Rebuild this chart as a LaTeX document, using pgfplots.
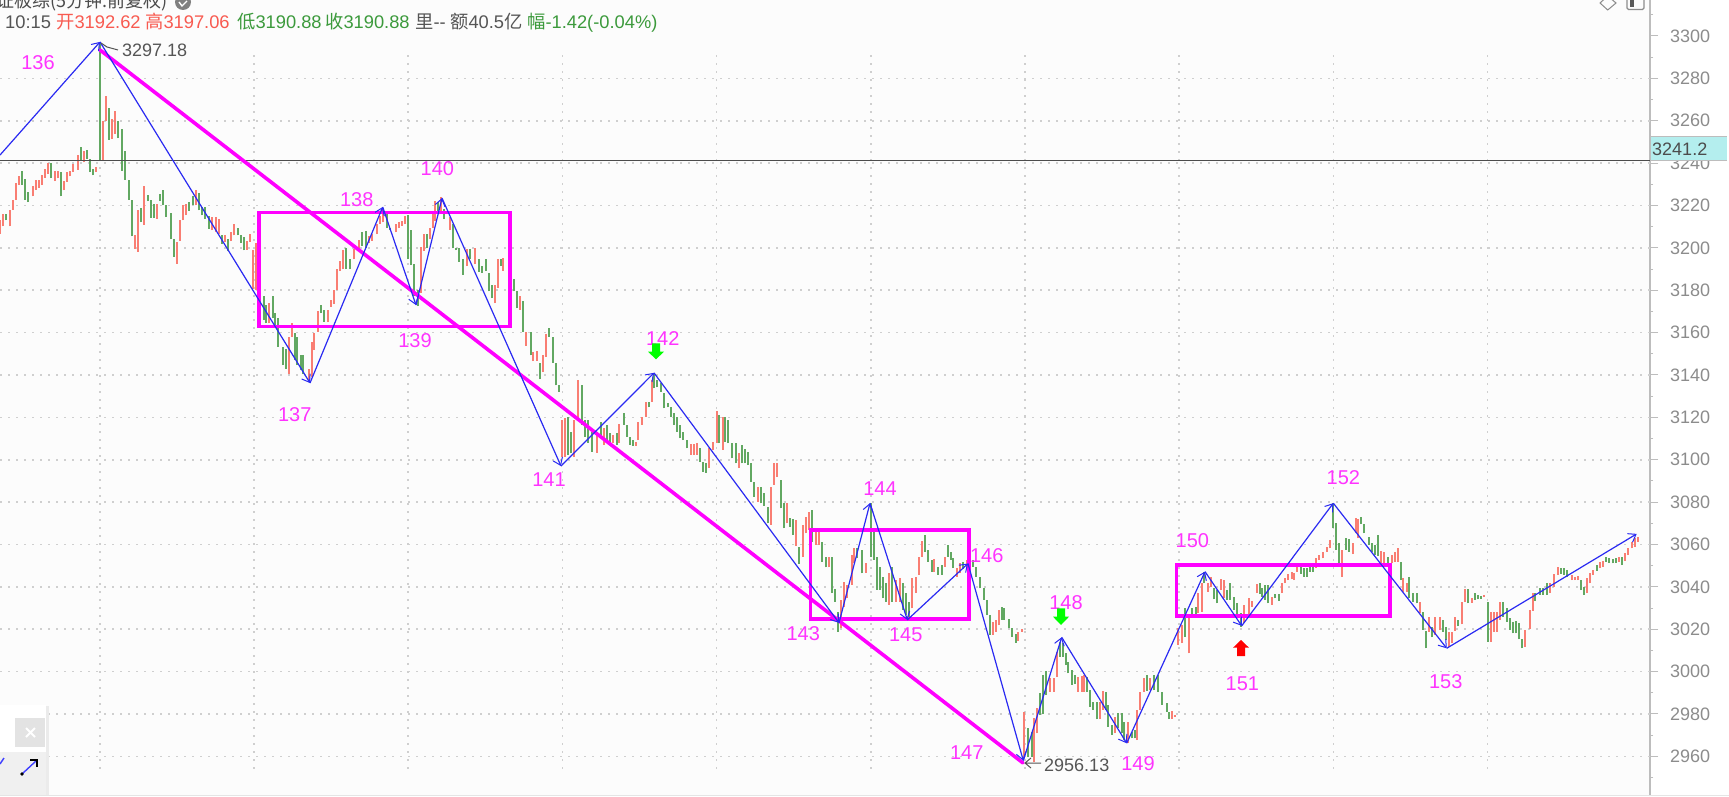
\documentclass[border=0pt]{standalone}
\usepackage{fontspec}
\usepackage{pgfplots}
\usepackage{pgfplotstable}
\pgfplotsset{compat=1.18}
\usetikzlibrary{arrows.meta}
\setmainfont{Liberation Sans}
\newfontfamily\cjk{Noto Sans CJK SC}
\definecolor{barred}{HTML}{F97E73}
\definecolor{bargreen}{HTML}{62A862}
\definecolor{hdrred}{HTML}{F85A50}
\definecolor{hdrgreen}{HTML}{3C9A3C}
\definecolor{mag}{HTML}{FF00FF}
\definecolor{lab}{HTML}{FF33FF}
\definecolor{zig}{HTML}{2A2AF2}
\definecolor{gridc}{HTML}{CFCFCF}
\definecolor{axc}{HTML}{BDBDBD}
\definecolor{tickc}{HTML}{8C8C8C}
\definecolor{txt}{HTML}{555555}
\definecolor{cy}{HTML}{B4EEEE}
\pgfplotstableread{
x hi lo
0.0 3213.0 3206.7
2.7 3215.8 3210.1
10.3 3218.0 3210.1
13.3 3222.7 3218.0
16.0 3230.6 3222.7
19.0 3233.7 3229.9
32.7 3229.1 3224.3
35.7 3231.8 3227.4
38.7 3232.1 3228.4
41.7 3234.2 3229.6
44.7 3237.0 3233.1
47.7 3240.0 3235.0
55.0 3236.5 3231.5
58.3 3236.2 3232.8
64.0 3231.5 3227.1
67.0 3235.7 3231.2
70.0 3236.5 3233.7
73.3 3239.7 3235.7
77.7 3243.6 3236.8
83.7 3245.6 3240.4
95.7 3238.4 3235.7
103.0 3259.8 3241.2
106.0 3271.8 3259.8
112.0 3260.9 3251.4
115.0 3264.5 3253.8
134.7 3205.9 3199.6
137.7 3218.0 3198.1
143.7 3229.1 3210.9
157.0 3220.8 3213.8
176.7 3202.8 3192.6
179.7 3213.0 3203.2
182.7 3220.0 3213.0
185.7 3220.8 3215.3
196.0 3227.1 3220.0
212.3 3214.5 3208.3
216.0 3214.5 3207.5
219.3 3213.8 3206.7
225.0 3205.9 3202.8
230.7 3207.5 3203.2
233.7 3211.4 3205.9
247.3 3203.2 3199.2
250.3 3206.7 3202.8
253.3 3198.8 3180.8
256.3 3202.3 3180.0
269.3 3173.9 3164.4
289.0 3158.1 3140.6
292.0 3164.4 3158.1
308.7 3143.0 3136.6
311.7 3155.7 3139.0
314.3 3159.7 3151.7
318.0 3170.0 3160.4
328.0 3170.8 3164.9
331.0 3175.5 3172.3
334.0 3180.3 3173.6
337.3 3189.8 3180.3
340.0 3193.8 3189.0
343.3 3198.9 3189.8
353.7 3199.3 3194.6
358.7 3203.6 3198.9
369.3 3205.7 3202.5
372.3 3206.5 3203.3
376.7 3211.2 3206.5
380.0 3215.2 3211.2
383.3 3218.4 3212.0
396.0 3211.2 3207.3
399.3 3212.0 3209.3
402.0 3212.8 3210.4
404.7 3215.2 3211.2
421.0 3200.4 3178.7
424.0 3206.5 3198.5
430.0 3209.6 3204.1
433.0 3217.6 3209.6
435.3 3222.3 3212.8
441.0 3224.2 3217.6
450.0 3214.4 3208.4
466.7 3199.3 3191.4
475.3 3200.1 3192.2
495.0 3182.7 3173.9
498.0 3194.6 3181.1
503.3 3195.0 3189.3
520.0 3177.1 3170.8
526.0 3160.4 3153.8
533.3 3150.9 3146.5
536.7 3151.2 3146.5
542.7 3149.3 3141.4
545.7 3159.2 3148.5
562.0 3118.8 3101.5
565.0 3119.6 3101.5
574.0 3118.8 3101.5
578.3 3137.6 3118.8
596.7 3113.3 3103.4
604.0 3114.8 3107.0
613.3 3111.7 3107.8
619.3 3116.7 3107.8
635.7 3108.5 3106.5
638.3 3118.0 3109.3
641.7 3120.3 3116.4
645.7 3127.4 3120.3
652.0 3137.6 3127.4
690.7 3107.4 3102.3
694.0 3107.4 3102.3
697.3 3107.8 3102.3
709.0 3105.4 3096.0
713.3 3108.5 3104.6
716.7 3123.2 3107.8
722.7 3120.0 3104.6
739.0 3103.0 3096.0
758.3 3087.0 3080.2
770.7 3087.3 3069.2
773.7 3098.3 3088.1
776.7 3098.3 3092.0
787.0 3079.4 3070.0
796.0 3071.6 3059.3
803.3 3069.2 3054.3
806.3 3073.2 3065.3
809.3 3075.5 3066.9
815.7 3066.1 3059.8
818.7 3066.1 3059.8
829.0 3054.0 3049.2
840.7 3033.8 3020.4
844.3 3042.5 3030.4
847.3 3040.9 3034.6
851.7 3055.1 3040.9
854.3 3058.2 3051.1
866.0 3051.1 3046.7
889.0 3046.4 3031.5
896.0 3043.3 3033.0
900.0 3044.0 3033.0
912.3 3044.0 3029.9
916.0 3044.8 3037.0
919.3 3054.3 3045.6
922.3 3061.8 3054.3
934.0 3053.0 3047.2
944.7 3054.3 3049.5
956.7 3048.8 3044.8
960.0 3051.1 3046.4
967.3 3052.7 3048.7
992.7 3023.6 3017.3
995.7 3024.4 3018.9
999.0 3029.1 3022.0
1018.3 3018.9 3014.6
1021.7 3020.0 3018.9
1024.3 2981.1 2959.1
1034.3 2978.0 2957.5
1037.3 2982.7 2970.9
1050.0 2996.8 2990.6
1054.0 2996.8 2990.6
1056.7 3009.4 2997.6
1078.3 2997.3 2990.6
1081.7 2998.0 2990.6
1084.0 2998.4 2990.6
1100.0 2985.8 2977.5
1102.7 2991.0 2981.9
1115.0 2978.8 2970.9
1128.3 2976.4 2966.2
1137.3 2981.9 2967.7
1140.0 2990.6 2981.9
1144.0 2996.8 2990.6
1150.3 2996.8 2991.3
1172.3 2981.6 2977.6
1175.3 2979.5 2978.8
1178.3 3020.4 3012.6
1181.7 3022.0 3013.4
1189.3 3025.9 3008.6
1198.3 3037.0 3027.5
1201.7 3041.7 3028.3
1208.0 3041.7 3037.7
1211.0 3044.5 3039.8
1220.7 3043.7 3038.5
1223.7 3043.2 3034.6
1243.7 3031.5 3023.1
1249.0 3034.6 3026.7
1252.3 3033.5 3030.7
1256.7 3041.4 3037.0
1271.7 3035.4 3031.5
1282.0 3042.0 3037.0
1285.3 3044.0 3041.7
1288.3 3046.1 3043.2
1291.7 3047.2 3043.6
1294.3 3046.7 3043.2
1297.3 3049.9 3047.2
1316.0 3053.5 3048.8
1319.3 3055.0 3052.7
1323.3 3056.6 3053.5
1327.0 3059.0 3056.6
1330.0 3062.1 3058.2
1342.3 3057.4 3044.8
1352.7 3060.6 3055.5
1355.7 3072.3 3065.3
1358.3 3071.9 3062.9
1381.3 3057.1 3050.3
1384.3 3056.6 3050.3
1392.3 3055.0 3051.1
1395.0 3056.6 3051.9
1397.7 3058.2 3051.9
1403.3 3044.0 3037.7
1406.7 3041.7 3037.7
1420.0 3033.0 3027.5
1429.0 3026.0 3018.9
1435.0 3026.0 3017.3
1440.0 3026.0 3019.7
1449.0 3018.9 3011.8
1451.7 3018.9 3013.4
1454.7 3026.0 3019.3
1461.7 3033.0 3022.3
1465.0 3038.8 3033.0
1471.7 3034.6 3032.6
1484.3 3036.2 3035.4
1491.0 3028.3 3014.1
1494.0 3028.3 3018.9
1496.7 3028.3 3018.9
1499.7 3033.0 3024.4
1525.0 3019.7 3011.8
1529.7 3029.1 3020.0
1532.7 3037.3 3028.8
1550.0 3041.7 3037.0
1554.3 3046.1 3040.1
1557.7 3049.5 3045.6
1571.7 3045.6 3043.2
1574.7 3044.5 3043.2
1578.0 3045.1 3043.2
1586.7 3044.0 3037.0
1590.0 3046.7 3041.7
1592.7 3048.0 3045.6
1600.0 3051.9 3048.8
1603.0 3052.4 3049.5
1618.7 3053.9 3051.9
1625.3 3055.8 3052.4
1628.3 3058.2 3055.0
1631.7 3061.3 3058.2
1635.0 3062.9 3059.0
1637.7 3063.7 3061.3
}\redbars
\pgfplotstableread{
x hi lo
5.7 3215.8 3213.0
22.0 3236.2 3229.9
25.0 3232.6 3222.7
28.3 3226.3 3221.6
50.7 3240.0 3232.9
61.3 3235.7 3224.3
80.7 3247.5 3241.2
86.7 3246.3 3242.0
89.7 3242.0 3235.7
92.7 3237.3 3234.2
100.0 3297.2 3241.2
109.0 3266.0 3251.0
118.0 3259.8 3251.8
122.3 3256.1 3236.5
125.3 3245.5 3232.1
128.7 3232.1 3222.7
131.7 3222.7 3205.4
140.7 3218.9 3212.2
148.0 3225.1 3222.1
151.0 3222.4 3214.2
154.0 3220.8 3214.1
160.0 3225.5 3222.1
163.0 3227.1 3220.0
166.0 3220.0 3214.5
170.7 3216.6 3204.0
173.7 3204.3 3195.7
188.7 3221.6 3217.4
193.0 3224.7 3220.0
199.0 3225.8 3217.7
202.0 3219.2 3215.3
205.0 3219.2 3213.8
209.3 3214.9 3209.0
222.0 3205.9 3202.0
228.0 3204.3 3198.4
238.3 3209.4 3205.9
241.3 3205.9 3202.3
244.3 3205.1 3198.8
260.0 3203.5 3176.1
263.7 3177.1 3166.0
266.0 3173.1 3164.4
272.7 3177.1 3166.8
275.3 3169.2 3162.8
278.3 3166.8 3153.3
282.7 3153.3 3144.6
285.7 3152.5 3143.0
294.7 3159.7 3147.0
297.3 3158.1 3144.6
300.7 3149.3 3142.2
303.3 3149.3 3140.6
320.7 3172.8 3169.2
323.7 3170.8 3165.2
346.0 3199.8 3189.8
350.0 3194.6 3189.8
362.0 3207.3 3200.9
365.7 3208.1 3200.1
387.3 3216.8 3209.3
390.0 3209.6 3208.4
407.7 3215.7 3194.6
410.7 3208.4 3191.9
413.7 3192.2 3177.1
418.0 3180.3 3172.4
427.0 3206.5 3200.1
438.3 3221.5 3217.6
444.3 3218.4 3213.6
453.0 3211.2 3199.8
456.0 3200.1 3198.9
459.0 3200.1 3193.5
463.3 3194.6 3187.4
470.0 3199.3 3194.6
479.0 3194.6 3188.7
482.0 3191.4 3188.2
485.7 3194.6 3189.0
488.7 3188.2 3179.5
491.7 3182.7 3176.3
500.7 3194.6 3191.4
510.7 3191.9 3184.3
514.0 3185.5 3179.5
517.0 3179.5 3171.6
523.3 3174.7 3160.4
530.7 3160.1 3149.3
540.0 3145.8 3137.9
548.7 3162.3 3158.1
553.3 3158.1 3145.8
556.0 3145.8 3135.1
559.3 3135.1 3132.2
568.0 3120.3 3102.3
571.0 3113.3 3103.0
581.7 3135.3 3116.4
585.0 3118.8 3110.9
587.7 3118.8 3108.0
592.3 3113.3 3103.8
601.0 3118.0 3110.1
606.7 3116.4 3109.3
610.0 3112.5 3107.8
616.7 3112.5 3107.0
624.0 3121.9 3116.4
626.7 3116.4 3110.9
630.0 3110.9 3107.0
633.3 3109.3 3106.5
648.7 3127.4 3124.7
654.0 3140.8 3133.7
656.7 3137.6 3134.2
660.7 3136.1 3132.1
664.0 3131.7 3124.3
668.3 3126.6 3124.7
671.3 3124.7 3120.3
674.3 3121.9 3116.4
677.3 3120.3 3113.3
680.3 3116.4 3110.1
683.3 3113.3 3109.3
686.7 3109.3 3105.4
700.3 3105.4 3099.1
703.3 3099.1 3094.4
706.3 3098.3 3093.9
719.3 3121.1 3107.8
725.3 3120.0 3108.5
728.3 3118.8 3107.8
731.7 3108.1 3100.7
736.0 3107.8 3098.3
742.0 3107.0 3098.3
745.0 3104.9 3098.3
748.0 3103.8 3097.5
751.0 3098.3 3089.7
754.0 3089.7 3082.6
761.3 3087.0 3079.4
764.3 3084.2 3078.2
767.7 3077.9 3070.0
781.0 3090.5 3077.1
783.7 3079.8 3067.6
790.0 3072.4 3068.4
793.3 3071.9 3064.5
799.0 3059.0 3050.8
812.3 3076.3 3061.4
821.7 3061.4 3051.9
826.0 3054.3 3049.2
832.0 3054.3 3037.0
835.0 3038.9 3033.0
838.0 3028.3 3018.9
856.7 3058.2 3053.5
861.7 3057.4 3046.4
870.7 3079.4 3054.3
874.0 3066.9 3052.7
877.0 3054.3 3038.6
880.0 3049.6 3038.6
883.0 3044.8 3034.6
886.0 3041.7 3033.0
892.0 3049.6 3033.0
903.0 3041.7 3029.1
906.0 3037.0 3026.7
909.0 3033.0 3024.4
925.0 3064.5 3056.6
928.3 3057.4 3051.9
931.7 3052.7 3047.2
938.3 3049.5 3045.6
941.7 3050.3 3045.6
947.7 3059.8 3054.3
950.7 3056.3 3052.7
953.3 3053.5 3048.8
963.3 3051.9 3048.3
972.7 3052.7 3049.5
976.0 3049.5 3044.8
980.0 3044.8 3039.3
983.7 3039.3 3033.8
986.7 3033.8 3026.7
990.0 3026.7 3017.3
1001.7 3030.3 3024.4
1004.3 3029.9 3024.4
1009.0 3024.7 3020.4
1012.3 3020.4 3016.5
1015.7 3017.8 3013.7
1027.7 2973.2 2959.9
1031.7 2971.7 2959.9
1040.0 2989.8 2979.5
1043.3 2998.4 2979.9
1046.0 3000.3 2989.0
1060.0 3014.2 3007.1
1063.3 3013.4 3007.1
1065.7 3008.6 3003.1
1068.3 3004.7 2999.2
1071.7 3000.8 2993.7
1075.0 2998.4 2994.2
1087.3 2997.6 2990.6
1090.0 2991.3 2983.5
1093.3 2985.8 2981.9
1096.7 2985.8 2977.5
1106.0 2990.6 2981.9
1108.3 2984.3 2974.0
1111.7 2974.8 2970.1
1118.3 2980.3 2973.2
1121.7 2980.3 2970.9
1124.3 2976.4 2967.7
1131.7 2971.7 2968.5
1135.0 2972.5 2968.5
1147.3 2998.4 2991.0
1154.0 2998.4 2991.3
1158.3 2998.4 2990.6
1162.3 2990.6 2984.3
1166.7 2985.1 2981.1
1169.3 2981.1 2977.6
1185.0 3029.9 3016.5
1192.3 3029.9 3026.7
1195.7 3030.7 3026.7
1204.3 3047.2 3041.7
1214.0 3039.3 3034.1
1217.0 3038.5 3032.2
1226.7 3038.5 3033.8
1230.0 3041.7 3033.8
1234.3 3035.4 3029.1
1237.3 3032.6 3025.2
1240.7 3027.5 3021.2
1259.7 3041.7 3036.6
1262.3 3039.3 3035.4
1265.0 3040.9 3033.8
1268.3 3040.9 3032.2
1275.0 3036.6 3034.6
1279.0 3036.6 3033.5
1301.0 3049.5 3046.1
1304.0 3048.8 3044.8
1307.0 3048.8 3044.8
1310.0 3051.4 3047.2
1313.0 3050.3 3047.2
1333.3 3079.4 3067.6
1336.0 3070.0 3057.4
1339.0 3060.6 3051.1
1346.0 3062.9 3057.4
1349.0 3062.4 3056.6
1361.3 3072.8 3069.7
1364.3 3069.7 3065.3
1368.7 3063.7 3059.8
1371.7 3060.6 3056.6
1375.0 3059.8 3055.0
1378.0 3064.5 3054.6
1388.3 3053.9 3050.8
1401.0 3051.9 3043.2
1409.3 3044.5 3034.6
1413.3 3037.0 3033.0
1416.7 3037.0 3032.2
1423.0 3028.3 3019.7
1426.0 3019.3 3011.0
1431.7 3021.2 3016.2
1443.3 3024.4 3018.9
1446.3 3021.2 3014.9
1457.7 3024.4 3021.5
1467.7 3038.8 3032.2
1474.7 3037.0 3033.8
1477.7 3036.2 3034.1
1480.7 3035.7 3034.4
1487.7 3033.0 3014.1
1502.7 3032.7 3025.9
1506.7 3029.9 3023.6
1509.7 3025.2 3019.7
1512.7 3023.6 3018.1
1516.0 3024.1 3018.1
1519.3 3023.1 3015.2
1522.0 3015.2 3011.0
1535.3 3037.0 3033.5
1540.0 3039.3 3036.2
1543.3 3039.3 3036.2
1546.7 3041.7 3036.2
1560.7 3048.8 3046.1
1564.0 3048.8 3045.6
1567.3 3048.0 3044.5
1581.0 3043.2 3038.5
1584.0 3039.8 3036.2
1596.7 3050.3 3047.7
1606.0 3054.3 3051.9
1609.3 3053.5 3051.4
1612.7 3053.0 3051.1
1615.7 3053.5 3051.4
1622.3 3054.3 3050.3
}\greenbars
\newcommand{\lbl}[3]{\node[text=lab,font=\fontsize{20}{20}\selectfont,inner sep=0pt] at (#1,796-#2) {#3};}
\newcommand{\hd}[3]{\node[text=#2,font=\fontsize{18.3}{18.3}\selectfont,inner sep=0pt,anchor=base west] at (#1,796-28.5) {#3};}
\begin{document}
\begin{tikzpicture}[x=1pt,y=1pt]
\useasboundingbox (0,0) rectangle (1729,796);
\fill[fill=white] (0,0) rectangle (1729,796);
\fill[fill=black!1] (0,0) rectangle (1650,796);
\begin{axis}[
  at={(0,0)}, anchor=south west,
  scale only axis, width=1650pt, height=796pt,
  xmin=0, xmax=1650, ymin=2941.29, ymax=3316.99,
  axis x line=none,
  axis y line=right,
  axis line style={draw=axc,line width=1.2pt,-},
  ytick={2960,2980,...,3300},
  minor ytick={2950,2970,...,3310},
  major tick length=8pt, minor tick length=3pt,
  tick align=outside,
  tick style={draw=axc,line width=1pt},
  every tick/.style={draw=axc,line width=1pt},
  /pgf/number format/assume math mode=true,
  /pgf/number format/1000 sep={},
  yticklabel style={font=\fontsize{18}{18}\selectfont,text=tickc,anchor=west,xshift=12pt,inner sep=0pt},
]
\pgfplotsinvokeforeach{2960,2980,3000,3020,3040,3060,3080,3100,3120,3140,3160,3180,3200,3220,3240,3260,3280}{
  \addplot[forget plot,draw=gridc,line width=1.6pt,dash pattern=on 1.6pt off 6.4pt] coordinates {(0,#1) (1650,#1)};
}
\pgfplotsinvokeforeach{99.8,254,408.2,562.4,716.6,870.8,1025,1179.2,1333.4,1487.6}{
  \addplot[forget plot,draw=gridc,line width=1.6pt,dash pattern=on 1.6pt off 6.4pt] coordinates {(#1,3291) (#1,2951.3)};
}
\addplot[forget plot,draw=none,mark=none,error bars/.cd,y dir=plus,y explicit,error mark=none,error bar style={draw=barred,line width=2pt}]
  table[x=x,y=lo,y error expr=\thisrow{hi}-\thisrow{lo}] {\redbars};
\addplot[forget plot,draw=none,mark=none,error bars/.cd,y dir=plus,y explicit,error mark=none,error bar style={draw=bargreen,line width=2pt}]
  table[x=x,y=lo,y error expr=\thisrow{hi}-\thisrow{lo}] {\greenbars};
\addplot[forget plot,draw=black!70,line width=1.8pt] coordinates {(0,3241.2) (1650,3241.2)};
\addplot[forget plot,draw=mag,line width=3.6pt,line cap=round] coordinates {(100,3293.4) (1023,2956.9)};
\addplot[forget plot,draw=mag,line width=3.4pt,line cap=rect] coordinates {(259,3216.8) (510,3216.8) (510,3162.8) (259,3162.8) (259,3216.8)};
\addplot[forget plot,draw=mag,line width=3.4pt,line cap=rect] coordinates {(810.7,3066.9) (969,3066.9) (969,3024.9) (810.7,3024.9) (810.7,3066.9)};
\addplot[forget plot,draw=mag,line width=3.4pt,line cap=rect] coordinates {(1176.7,3050.4) (1390,3050.4) (1390,3026.3) (1176.7,3026.3) (1176.7,3050.4)};
\pgfplotsset{zigz/.style={forget plot,draw=zig,line width=1.2pt,-{Straight Barb[length=7pt,width=10pt,line width=1pt]}}}
\addplot[zigz] coordinates {(0,3243.8) (100,3297.2)};
\addplot[zigz] coordinates {(100,3297.2) (310,3136.2)};
\addplot[zigz] coordinates {(310,3136.2) (382.7,3219.3)};
\addplot[zigz] coordinates {(382.7,3219.3) (416,3173)};
\addplot[zigz] coordinates {(416,3173) (442,3223.5)};
\addplot[zigz] coordinates {(442,3223.5) (561,3097)};
\addplot[zigz] coordinates {(561,3097) (654,3141)};
\addplot[zigz] coordinates {(654,3141) (839,3023)};
\addplot[zigz] coordinates {(839,3023) (870,3079.5)};
\addplot[zigz] coordinates {(870,3079.5) (907.3,3024.4)};
\addplot[zigz] coordinates {(907.3,3024.4) (968,3051)};
\addplot[zigz] coordinates {(968,3051) (1023.3,2958)};
\addplot[zigz] coordinates {(1023.3,2958) (1061.7,3016.2)};
\addplot[zigz] coordinates {(1061.7,3016.2) (1126.7,2966.2)};
\addplot[zigz] coordinates {(1126.7,2966.2) (1205,3047.2)};
\addplot[zigz] coordinates {(1205,3047.2) (1241.7,3021.6)};
\addplot[zigz] coordinates {(1241.7,3021.6) (1333.3,3079.5)};
\addplot[zigz] coordinates {(1333.3,3079.5) (1446.7,3011)};
\addplot[zigz] coordinates {(1446.7,3011) (1636.7,3065)};
\end{axis}
% price tag
\fill[cy] (1651,796-161) rectangle (1727,796-137);
\draw[axc,line width=1pt] (1651,796-137) -- (1727,796-137) (1651,796-161) -- (1727,796-161);
\node[text=black!70,font=\fontsize{18}{18}\selectfont,inner sep=0pt,anchor=west] at (1652,796-149) {3241.2};
% title and header
\node[text=black!70,font=\cjk\fontsize{18}{18}\selectfont,inner sep=0pt,anchor=base west] at (-4,796-8) {证板综(5分钟.前复权)};
\fill[black!50] (183,796-2) circle (8);
\draw[white,line width=1.4pt] (179,796-2) -- (182,796-6) -- (187,796-1);
\hd{5}{txt}{10:15}
\hd{56}{hdrred}{{\cjk 开}3192.62}
\hd{145}{hdrred}{{\cjk 高}3197.06}
\hd{237}{hdrgreen}{{\cjk 低}3190.88}
\hd{325}{hdrgreen}{{\cjk 收}3190.88}
\hd{415}{txt}{{\cjk 里}{-}{-}}
\hd{450}{txt}{{\cjk 额}40.5{\cjk 亿}}
\hd{527}{hdrgreen}{{\cjk 幅}-1.42(-0.04\%)}
% numbered labels
\lbl{38}{62.7}{136}
\lbl{294.7}{415}{137}
\lbl{356.7}{199.3}{138}
\lbl{415}{341}{139}
\lbl{437.4}{169}{140}
\lbl{549}{480}{141}
\lbl{662.7}{338.3}{142}
\lbl{803.3}{633.3}{143}
\lbl{880}{488.3}{144}
\lbl{905.7}{635}{145}
\lbl{986.7}{556}{146}
\lbl{966.7}{752.7}{147}
\lbl{1066}{602.3}{148}
\lbl{1138}{763.3}{149}
\lbl{1192.3}{541}{150}
\lbl{1242.3}{683.3}{151}
\lbl{1343.3}{477.7}{152}
\lbl{1445.7}{681.7}{153}
% extreme values
\node[text=txt,font=\fontsize{18}{18}\selectfont,inner sep=0pt,anchor=west] at (122,796-50) {3297.18};
\node[text=txt,font=\fontsize{18}{18}\selectfont,inner sep=0pt,anchor=west] at (1044,796-765) {2956.13};
\draw[txt,line width=1pt] (101,796-43) -- (107,796-47) -- (118,796-50);
\draw[txt,line width=1pt] (1025,796-763) -- (1041,796-763) (1031,796-758) -- (1025,796-763) -- (1031,796-768);
% signal arrows
\fill[green] (652,796-343.3) -- (660,796-343.3) -- (660,796-351.7) -- (664,796-351.7) -- (656,796-359.3) -- (648,796-351.7) -- (652,796-351.7) -- cycle;
\fill[green] (1057,796-608.3) -- (1065,796-608.3) -- (1065,796-616.7) -- (1069,796-616.7) -- (1061,796-625) -- (1053,796-616.7) -- (1057,796-616.7) -- cycle;
\fill[red] (1237,796-656) -- (1245,796-656) -- (1245,796-647.7) -- (1249,796-647.7) -- (1241,796-640) -- (1233,796-647.7) -- (1237,796-647.7) -- cycle;
% toolbar icons
\draw[black!45,line width=1pt] (1600,796-3) -- (1607.7,796-10) -- (1616,796-3) -- (1607.7,796+4) -- cycle;
\draw[black!45,line width=1.2pt,rounded corners=1.5pt] (1627,796+4) rectangle (1644,796-9.5);
\fill[black!65] (1630,796) rectangle (1634,796-7);
% panel, lower left
\fill[black!8] (46,0) rectangle (49,796-706);
\fill[white] (0,796-705) rectangle (46,796-752);
\fill[black!6] (0,796-752) rectangle (46,0);
\fill[black!11] (15,796-718) rectangle (45,796-747);
\draw[white,line width=1.8pt] (26,796-728) -- (35,796-737) (35,796-728) -- (26,796-737);
\draw[blue!75!white,line width=1.4pt] (22,796-774) -- (36,796-761);
\fill[black] (22,796-774) circle (1.8);
\draw[black,line width=1.6pt] (30,796-760) -- (37,796-760) -- (37,796-767);
\draw[blue!75!white,line width=1.4pt] (0,796-764) -- (4,796-758);
\draw[black!10,line width=1pt] (0,1) -- (1729,1);
\end{tikzpicture}
\end{document}
